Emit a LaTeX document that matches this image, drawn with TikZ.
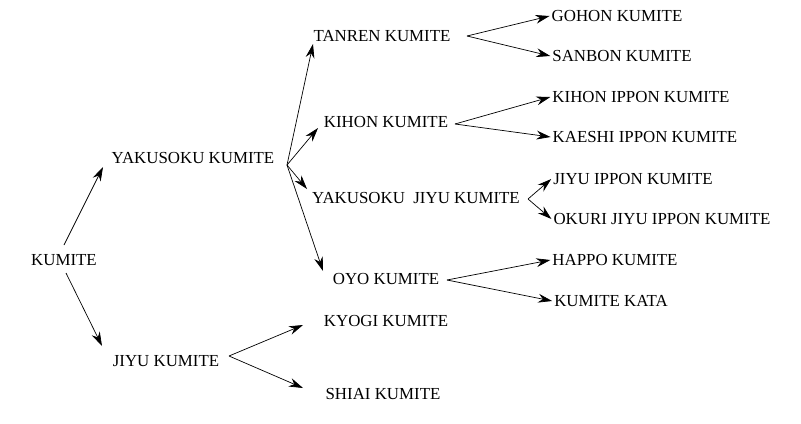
\documentclass[tikz,border=0pt]{standalone}
\usepackage{fontspec}
\setmainfont{Liberation Serif}
\usetikzlibrary{arrows.meta}

\begin{document}
\begin{tikzpicture}[x=0.02cm,y=-0.02cm,
  lbl/.style={inner sep=1pt,font=\fontsize{9.6}{11}\selectfont},
  arr/.style={-{Stealth[length=8pt,width=5pt]},black}]
\useasboundingbox (0,0) rectangle (801,423);
% level 0 and 1
\node[lbl] (kum) at (64,260) {KUMITE};
\node[lbl] (yak) at (193,158) {YAKUSOKU KUMITE};
\node[lbl] (jiyu) at (166,361) {JIYU KUMITE};
% level 2
\node[lbl] (tan) at (382,36) {TANREN KUMITE};
\node[lbl] (kih) at (386,122) {KIHON KUMITE};
\node[lbl] (yj) at (416,198) {YAKUSOKU\ \ JIYU KUMITE};
\node[lbl] (oyo) at (386,279) {OYO KUMITE};
\node[lbl] (kyo) at (386,321) {KYOGI KUMITE};
\node[lbl] (shi) at (383,394) {SHIAI KUMITE};
% level 3
\node[lbl] (goh) at (617,16) {GOHON KUMITE};
\node[lbl] (san) at (622,56) {SANBON KUMITE};
\node[lbl] (kip) at (641,97) {KIHON IPPON KUMITE};
\node[lbl] (kae) at (645,137) {KAESHI IPPON KUMITE};
\node[lbl] (jip) at (633,179) {JIYU IPPON KUMITE};
\node[lbl] (oku) at (662,219) {OKURI JIYU IPPON KUMITE};
\node[lbl] (hap) at (615,260) {HAPPO KUMITE};
\node[lbl] (kat) at (611,301) {KUMITE KATA};
% fork points
\coordinate (f0a) at (64,245);
\coordinate (f0b) at (66,273);
\coordinate (fy) at (287,165);
\coordinate (fj) at (229,356);
\coordinate (ft) at (467,36);
\coordinate (fk) at (455,124);
\coordinate (fyj) at (528,199);
\coordinate (fo) at (447,280);
% arrows
\draw[arr] (f0a) -- (103,167);
\draw[arr] (f0b) -- (102,346);
\draw[arr] (fy) -- (313,44);
\draw[arr] (fy) -- (318,128);
\draw[arr] (fy) -- (307,189);
\draw[arr] (fy) -- (323,271);
\draw[arr] (fj) -- (303,325);
\draw[arr] (fj) -- (303,388);
\draw[arr] (ft) -- (goh.west);
\draw[arr] (ft) -- (san.west);
\draw[arr] (fk) -- (kip.west);
\draw[arr] (fk) -- (kae.west);
\draw[arr] (fyj) -- (jip.west);
\draw[arr] (fyj) -- (oku.west);
\draw[arr] (fo) -- (hap.west);
\draw[arr] (fo) -- (kat.west);
\end{tikzpicture}
\end{document}
